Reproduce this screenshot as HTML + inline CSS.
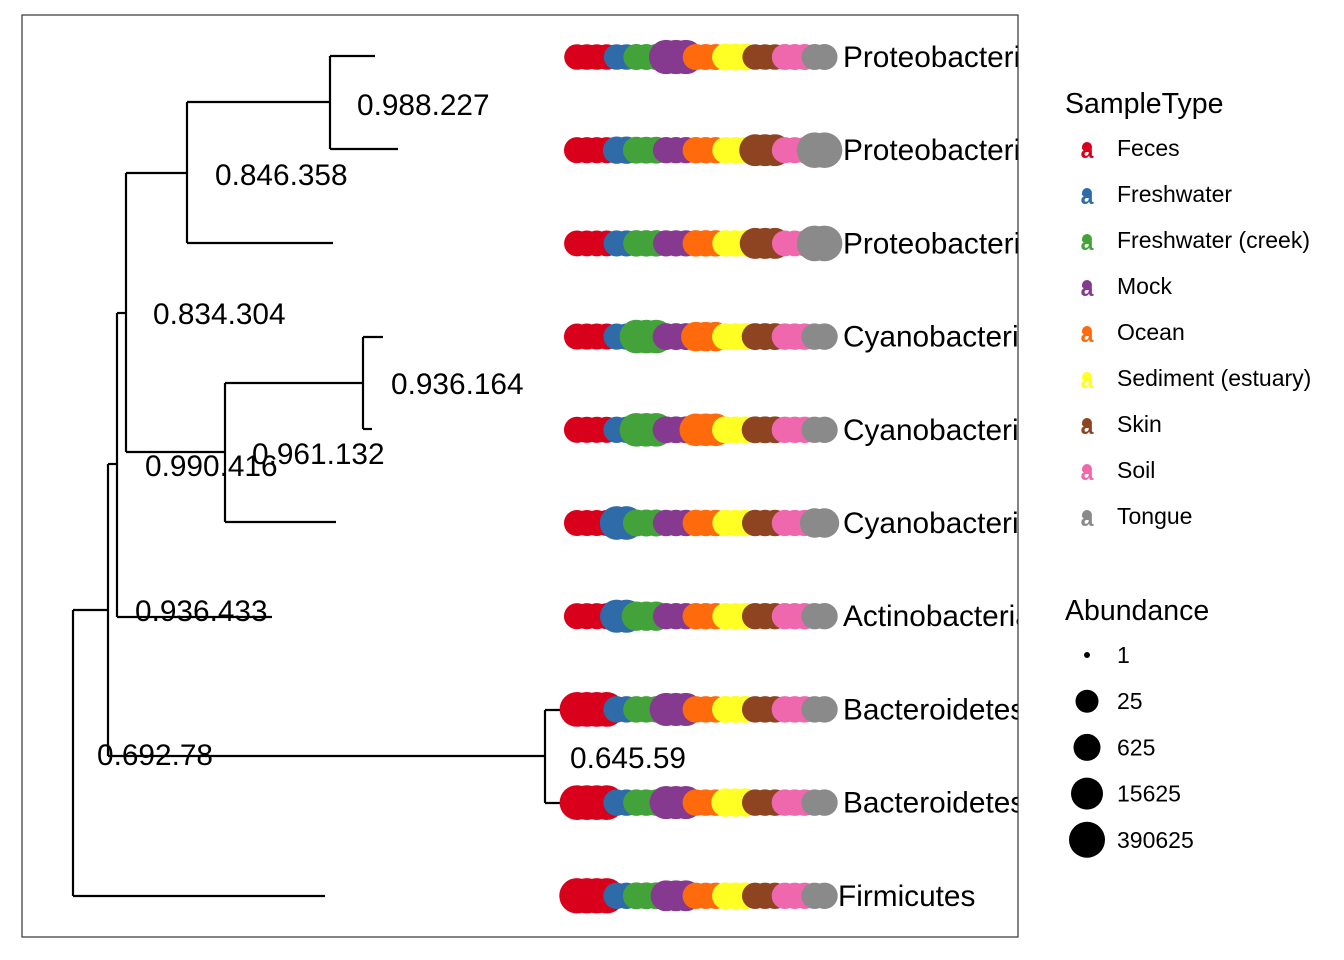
<!DOCTYPE html>
<html><head><meta charset="utf-8"><style>
body{margin:0;background:#fff}
svg{display:block}
text{font-family:"Liberation Sans",Arial,sans-serif}
</style></head><body>
<svg id="chart" width="1344" height="960" viewBox="0 0 1344 960" xmlns="http://www.w3.org/2000/svg">
<rect x="0" y="0" width="1344" height="960" fill="#fff"/>
<defs><clipPath id="panelClip"><rect x="22" y="15" width="996" height="922"/></clipPath></defs>
<g id="panel" clip-path="url(#panelClip)">
<g id="tree" stroke="#000" stroke-width="2.2" fill="none"></g>
<g id="nodelabels"></g>
<g id="dots"></g>
<g id="tiplabels"></g>
</g>
<rect x="22" y="15" width="996" height="922" fill="none" stroke="#333" stroke-width="1.2"/>
<g id="legend1">
<text x="1065" y="113" font-size="28.5">SampleType</text>
</g>
<g id="legend2">
<text x="1065" y="620" font-size="28.5">Abundance</text>
</g>
</svg>
<script>
const sampleTypes = ["Feces","Freshwater","Freshwater (creek)","Mock","Ocean","Sediment (estuary)","Skin","Soil","Tongue"];
const typeColors = ["#D9001B","#2E6BA8","#43A33A","#853A8F","#FF6A0C","#FFFF24","#8E4420","#EF68AD","#8A8A8A"];
const samplesPerType = [4,2,3,3,3,3,3,3,2];
const taxa = ["Proteobacteria","Proteobacteria","Proteobacteria","Cyanobacteria","Cyanobacteria","Cyanobacteria","Actinobacteria","Bacteroidetes","Bacteroidetes","Firmicutes"];
const abundance = [
 [200,200,300,100000,300,600,200,300,300],
 [300,800,600,400,400,400,15000,300,300000],
 [250,300,400,350,400,400,8000,250,300000],
 [300,350,60000,600,3000,600,600,400,400],
 [300,350,60000,600,25000,600,600,400,400],
 [300,60000,600,400,400,400,400,350,3000],
 [300,40000,3000,400,400,400,400,350,400],
 [150000,400,400,40000,400,600,400,400,400],
 [150000,400,400,40000,400,1500,400,400,400],
 [250000,400,600,8000,400,600,400,400,400]
];
const sizeBreaks = [1,25,625,15625,390625];
const nodeLabels = ["0.988.227","0.846.358","0.834.304","0.936.164","0.961.132","0.990.416","0.936.433","0.692.78","0.645.59"];

const NS="http://www.w3.org/2000/svg";
function mk(tag,attrs,parent){const e=document.createElementNS(NS,tag);for(const k in attrs)e.setAttribute(k,attrs[k]);parent.appendChild(e);return e;}
const yRow = i => 57 + i*93.2;
const legR = [3,11.5,13.5,16,18];
function rScale(v){
  const l=Math.log(Math.max(v,1))/Math.log(5);
  const ls=[0,2,4,6,8];
  if(l<=0)return legR[0];
  for(let i=0;i<4;i++){ if(l<=ls[i+1]) return legR[i]+(legR[i+1]-legR[i])*(l-ls[i])/(ls[i+1]-ls[i]); }
  return legR[4];
}
const xDot = j => 577 + j*9.9;

const tree=document.getElementById('tree');
const segs=[
 [73,610,73,896],[73,896,325,896],[73,610,108,610],
 [108,464,108,756],[108,756,545,756],[545,710,545,803],[545,710,565,710],[545,803,565,803],
 [108,464,117,464],[117,313,117,617],[117,617,272,617],
 [117,313,126,313],[126,173,126,452],
 [126,173,187,173],[187,102,187,243],[187,102,330,102],[330,56,330,149],[330,56,375,56],[330,149,398,149],[187,243,333,243],
 [126,452,225,452],[225,383,225,522],[225,383,363,383],[363,337,363,429],[363,337,383,337],[363,429,372,429],[225,522,336,522]
];
segs.forEach((s,i)=>{
 const l=mk('line',{x1:s[0],y1:s[1],x2:s[2],y2:s[3]},tree);
 
 
});
const nlPos=[[357,105],[215,175],[153,314],[391,384],[252,454],[145,466],[135,611],[97,755],[570,758]];
const nl=document.getElementById('nodelabels');
nodeLabels.forEach((t,i)=>{
 const e=mk('text',{x:nlPos[i][0],y:nlPos[i][1]+10,'font-size':'29.8'},nl);
 e.textContent=t;
 
 
});
const dots=document.getElementById('dots');
const tl=document.getElementById('tiplabels');
taxa.forEach((tx,i)=>{
 let j=0;
 const y=yRow(i);
 sampleTypes.forEach((st,k)=>{
  for(let n=0;n<samplesPerType[k];n++){
   const c=mk('circle',{cx:xDot(j),cy:y,r:rScale(abundance[i][k]),fill:typeColors[k]},dots);
   
   
   j++;
  }
 });
 const t=mk('text',{x:(i==9?838:843),y:y+10,'font-size':'29.8'},tl);
 t.textContent=tx;
 
 
});
const lg1=document.getElementById('legend1');
sampleTypes.forEach((st,k)=>{
 const y=148+k*46;
 const a=mk('text',{x:1087,y:y+10,'font-size':'23','font-weight':'bold','text-anchor':'middle',fill:typeColors[k]},lg1);
 a.textContent='a';
 
 
 const c=mk('circle',{cx:1087,cy:y-1,r:5,fill:typeColors[k]},lg1);
 
 
 const t=mk('text',{x:1117,y:y+8,'font-size':'23'},lg1);
 t.textContent=st;
 
 
});
const lg2=document.getElementById('legend2');
sizeBreaks.forEach((v,k)=>{
 const y=655+k*46.2;
 const c=mk('circle',{cx:1087,cy:y,r:rScale(v),fill:'#000'},lg2);
 
 
 const t=mk('text',{x:1117,y:y+8,'font-size':'23'},lg2);
 t.textContent=String(v);
 
 
});
</script>
</body></html>
